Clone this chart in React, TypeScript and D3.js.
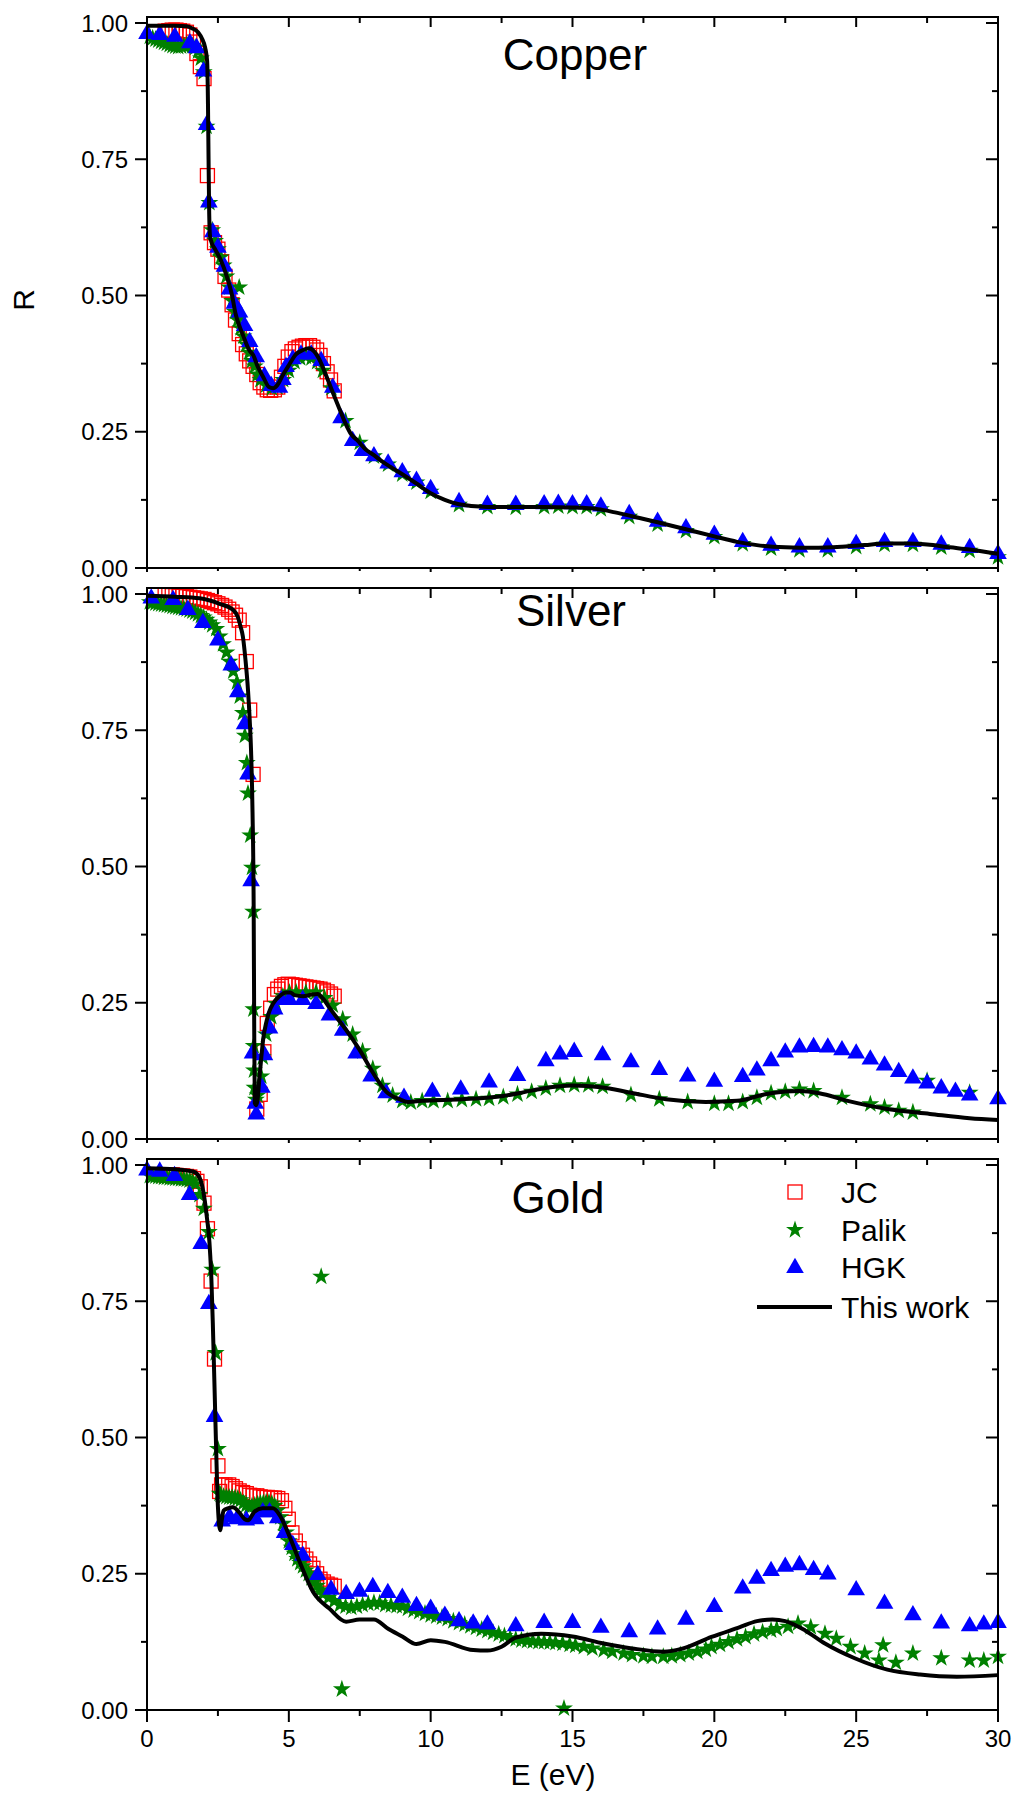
import React from 'react';
import * as d3 from 'd3';

type P = [number, number];

// ---------------- Copper ----------------
const cuThisWork: P[] = [
  [0, 0.995], [0.5, 0.995], [1.0, 0.995], [1.4, 0.994], [1.6, 0.99], [1.8, 0.983], [1.95, 0.97], [2.05, 0.955],
  [2.12, 0.93], [2.15, 0.85], [2.17, 0.75], [2.19, 0.66], [2.22, 0.61], [2.26, 0.6], [2.4, 0.585], [2.6, 0.565],
  [2.8, 0.537], [3.0, 0.5], [3.12, 0.467], [3.25, 0.445], [3.4, 0.425], [3.6, 0.4], [3.75, 0.39], [3.9, 0.37],
  [4.1, 0.35], [4.3, 0.332], [4.45, 0.33], [4.6, 0.336], [4.8, 0.355], [5.0, 0.372], [5.25, 0.392], [5.5, 0.4],
  [5.7, 0.403], [5.9, 0.397], [6.1, 0.38], [6.3, 0.355], [6.55, 0.322], [6.8, 0.29], [7.0, 0.265], [7.2, 0.245],
  [7.4, 0.235], [7.7, 0.218], [8.0, 0.207], [8.3, 0.195], [8.6, 0.185], [9.0, 0.172], [9.5, 0.155], [10.0, 0.137],
  [10.5, 0.125], [11.0, 0.117], [12.0, 0.112], [13.0, 0.112], [14.0, 0.112], [15.0, 0.111], [15.9, 0.108],
  [16.5, 0.102], [17.1, 0.095], [18.0, 0.084], [19.0, 0.071], [20.0, 0.058], [20.8, 0.048], [21.5, 0.042],
  [22.5, 0.038], [23.5, 0.037], [24.5, 0.039], [25.3, 0.042], [26.0, 0.045], [26.8, 0.045], [27.5, 0.043],
  [28.3, 0.038], [29.0, 0.034], [30.0, 0.026],
];
const cuJC: P[] = [
  [0.64, 0.985], [0.77, 0.986], [0.89, 0.987], [1.02, 0.987], [1.14, 0.986], [1.26, 0.985], [1.39, 0.983],
  [1.51, 0.978], [1.64, 0.965], [1.76, 0.944], [1.88, 0.92], [2.01, 0.898], [2.13, 0.72], [2.26, 0.615],
  [2.38, 0.597], [2.5, 0.585], [2.63, 0.562], [2.75, 0.535], [2.88, 0.51], [3.0, 0.483], [3.12, 0.455],
  [3.25, 0.43], [3.37, 0.41], [3.5, 0.393], [3.62, 0.38], [3.74, 0.37], [3.87, 0.355], [3.99, 0.34],
  [4.12, 0.332], [4.24, 0.327], [4.36, 0.326], [4.49, 0.327], [4.61, 0.332], [4.74, 0.35], [4.86, 0.37],
  [4.98, 0.387], [5.11, 0.397], [5.23, 0.402], [5.36, 0.405], [5.48, 0.407], [5.6, 0.408], [5.73, 0.408],
  [5.85, 0.405], [5.98, 0.4], [6.1, 0.39], [6.22, 0.375], [6.35, 0.36], [6.47, 0.345], [6.6, 0.325],
];
const cuPalik: P[] = [
  [0.1, 0.975], [0.2, 0.972], [0.3, 0.97], [0.4, 0.968], [0.5, 0.966], [0.6, 0.964], [0.7, 0.962], [0.8, 0.96],
  [0.9, 0.958], [1.0, 0.957], [1.1, 0.956], [1.2, 0.957], [1.3, 0.958], [1.4, 0.96], [1.5, 0.96], [1.6, 0.958],
  [1.7, 0.955], [1.8, 0.948], [1.9, 0.935], [2.0, 0.91], [2.1, 0.81], [2.2, 0.67], [2.3, 0.62], [2.4, 0.6],
  [2.5, 0.585], [2.6, 0.57], [2.7, 0.555], [2.8, 0.535], [2.9, 0.515], [3.0, 0.49], [3.1, 0.47], [3.25, 0.515],
  [3.2, 0.455], [3.3, 0.44], [3.4, 0.425], [3.5, 0.41], [3.6, 0.395], [3.7, 0.38], [3.8, 0.37], [3.9, 0.355],
  [4.0, 0.345], [4.2, 0.335], [4.4, 0.33], [4.6, 0.332], [4.8, 0.345], [5.0, 0.362], [5.2, 0.378], [5.4, 0.385],
  [5.6, 0.388], [5.8, 0.385], [6.0, 0.378], [6.2, 0.362], [6.5, 0.33], [7.0, 0.27], [7.5, 0.23], [8.0, 0.205],
  [8.5, 0.19], [9.0, 0.172], [9.5, 0.157], [10.0, 0.14], [11.0, 0.116], [12.0, 0.112], [13.0, 0.111],
  [14.0, 0.112], [14.5, 0.113], [15.0, 0.112], [15.5, 0.112], [16.0, 0.108], [17.0, 0.094], [18.0, 0.08],
  [19.0, 0.068], [20.0, 0.057], [21.0, 0.044], [22.0, 0.036], [23.0, 0.033], [24.0, 0.033], [25.0, 0.039],
  [26.0, 0.043], [27.0, 0.043], [28.0, 0.038], [29.0, 0.032], [30.0, 0.02],
];
const cuHGK: P[] = [
  [0, 0.98], [0.45, 0.978], [0.98, 0.975], [1.51, 0.963], [1.75, 0.954], [1.99, 0.911], [2.1, 0.813],
  [2.18, 0.671], [2.32, 0.616], [2.5, 0.588], [2.73, 0.553], [2.91, 0.511], [3.08, 0.485], [3.26, 0.469],
  [3.44, 0.444], [3.62, 0.415], [3.85, 0.387], [4.14, 0.352], [4.38, 0.334], [4.67, 0.331], [4.79, 0.345],
  [4.9, 0.369], [5.14, 0.383], [5.43, 0.392], [5.79, 0.392], [6.14, 0.38], [6.55, 0.331], [6.84, 0.275],
  [7.25, 0.233], [7.6, 0.215], [8.0, 0.205], [8.5, 0.192], [9.0, 0.176], [9.5, 0.16], [10.0, 0.145],
  [11.0, 0.121], [12.0, 0.116], [13.0, 0.116], [14.0, 0.117], [14.5, 0.118], [15.0, 0.117], [15.5, 0.117],
  [16.0, 0.113], [17.0, 0.099], [18.0, 0.085], [19.0, 0.073], [20.0, 0.061], [21.0, 0.048], [22.0, 0.041],
  [23.0, 0.038], [24.0, 0.038], [25.0, 0.044], [26.0, 0.048], [27.0, 0.048], [28.0, 0.043], [29.0, 0.037],
  [30.0, 0.026],
];

// ---------------- Silver ----------------
const agThisWork: P[] = [
  [0, 0.997], [1.0, 0.995], [1.85, 0.992], [2.56, 0.982], [3.03, 0.971], [3.2, 0.958], [3.3, 0.94],
  [3.38, 0.922], [3.47, 0.88], [3.56, 0.824], [3.62, 0.77], [3.67, 0.71], [3.72, 0.6], [3.76, 0.43],
  [3.78, 0.2], [3.8, 0.066], [3.85, 0.062], [3.9, 0.073], [3.96, 0.11], [4.03, 0.15], [4.1, 0.185],
  [4.2, 0.213], [4.32, 0.235], [4.44, 0.248], [4.67, 0.262], [4.9, 0.269], [5.05, 0.269], [5.2, 0.264],
  [5.5, 0.262], [5.8, 0.265], [6.02, 0.266], [6.2, 0.258], [6.43, 0.241], [6.7, 0.222], [7.02, 0.2],
  [7.49, 0.164], [7.96, 0.122], [8.43, 0.087], [8.9, 0.073], [9.2, 0.068], [9.7, 0.07], [11.1, 0.073],
  [12.56, 0.079], [13.3, 0.086], [14.0, 0.093], [15.0, 0.098], [16.0, 0.095], [17.06, 0.085], [18.3, 0.073],
  [19.7, 0.068], [20.8, 0.07], [21.8, 0.082], [22.5, 0.087], [23.0, 0.088], [23.7, 0.084], [24.7, 0.07],
  [26.1, 0.055], [27.6, 0.046], [29.0, 0.038], [30.0, 0.035],
];
const agJC: P[] = [
  [0.64, 0.998], [0.77, 0.998], [0.89, 0.997], [1.02, 0.997], [1.14, 0.996], [1.26, 0.996], [1.39, 0.995],
  [1.51, 0.994], [1.64, 0.993], [1.76, 0.992], [1.88, 0.991], [2.01, 0.99], [2.13, 0.988], [2.26, 0.986],
  [2.38, 0.984], [2.5, 0.982], [2.63, 0.979], [2.75, 0.976], [2.88, 0.972], [3.0, 0.967], [3.12, 0.961],
  [3.25, 0.952], [3.37, 0.929], [3.5, 0.876], [3.62, 0.787], [3.74, 0.669], [3.87, 0.055], [3.99, 0.082],
  [4.12, 0.16], [4.24, 0.212], [4.36, 0.24], [4.49, 0.265], [4.61, 0.275], [4.74, 0.28], [4.86, 0.283],
  [4.98, 0.284], [5.11, 0.283], [5.23, 0.282], [5.36, 0.281], [5.48, 0.28], [5.6, 0.279], [5.73, 0.278],
  [5.85, 0.277], [5.98, 0.276], [6.1, 0.275], [6.22, 0.273], [6.35, 0.27], [6.47, 0.266], [6.6, 0.262],
];
const agPalik: P[] = [
  [0.1, 0.985], [0.2, 0.984], [0.3, 0.983], [0.4, 0.982], [0.5, 0.981], [0.6, 0.98], [0.7, 0.979], [0.8, 0.978],
  [0.9, 0.977], [1.0, 0.976], [1.1, 0.975], [1.2, 0.974], [1.3, 0.973], [1.4, 0.972], [1.5, 0.97], [1.6, 0.968],
  [1.7, 0.966], [1.8, 0.963], [1.9, 0.96], [2.0, 0.957], [2.1, 0.953], [2.2, 0.948], [2.3, 0.943], [2.44, 0.936],
  [2.56, 0.922], [2.68, 0.908], [2.8, 0.893], [2.91, 0.876], [3.04, 0.858], [3.17, 0.838], [3.27, 0.812],
  [3.38, 0.782], [3.45, 0.74], [3.52, 0.69], [3.56, 0.634], [3.64, 0.557], [3.7, 0.498], [3.74, 0.417],
  [3.75, 0.238], [3.76, 0.171], [3.77, 0.126], [3.79, 0.094], [3.84, 0.072], [3.9, 0.08], [4.03, 0.115],
  [4.08, 0.15], [4.2, 0.192], [4.38, 0.224], [4.55, 0.248], [4.79, 0.262], [5.02, 0.269], [5.26, 0.269],
  [5.6, 0.269], [5.96, 0.269], [6.26, 0.259], [6.55, 0.245], [6.9, 0.22], [7.25, 0.192], [7.6, 0.161],
  [7.96, 0.129], [8.3, 0.098], [8.66, 0.08], [9.0, 0.07], [9.3, 0.067], [9.7, 0.07], [10.1, 0.07],
  [10.6, 0.07], [11.1, 0.072], [11.6, 0.073], [12.06, 0.074], [12.56, 0.077], [13.06, 0.082], [13.56, 0.087],
  [14.06, 0.093], [14.56, 0.098], [15.06, 0.099], [15.56, 0.099], [16.06, 0.096], [17.06, 0.081],
  [18.06, 0.073], [19.06, 0.068], [20.0, 0.065], [20.5, 0.065], [21.0, 0.068], [21.5, 0.076], [22.0, 0.084],
  [22.5, 0.087], [23.0, 0.091], [23.5, 0.088], [24.5, 0.076], [25.5, 0.064], [26.0, 0.058], [26.5, 0.052],
  [27.0, 0.049], [27.5, 0.107], [29.0, 0.085],
];
const agHGK: P[] = [
  [0.15, 0.992], [0.92, 0.989], [1.44, 0.971], [1.97, 0.947], [2.5, 0.915], [2.97, 0.869], [3.2, 0.82],
  [3.44, 0.761], [3.56, 0.669], [3.67, 0.473], [3.72, 0.157], [3.82, 0.065], [3.85, 0.045], [4.05, 0.094],
  [4.14, 0.154], [4.32, 0.203], [4.5, 0.238], [4.73, 0.255], [5.02, 0.255], [5.49, 0.255], [5.96, 0.248],
  [6.43, 0.227], [6.9, 0.199], [7.37, 0.157], [7.9, 0.115], [8.43, 0.084], [9.06, 0.076], [10.06, 0.087],
  [11.06, 0.091], [12.06, 0.104], [13.06, 0.116], [14.06, 0.143], [14.56, 0.155], [15.06, 0.16], [16.06, 0.154],
  [17.06, 0.141], [18.06, 0.127], [19.06, 0.115], [20.0, 0.105], [21.0, 0.114], [21.5, 0.126], [22.0, 0.143],
  [22.5, 0.159], [23.0, 0.168], [23.5, 0.169], [24.0, 0.168], [24.5, 0.163], [25.0, 0.157], [25.5, 0.146],
  [26.0, 0.135], [26.5, 0.123], [27.0, 0.111], [27.5, 0.102], [28.0, 0.093], [28.5, 0.087], [29.0, 0.08],
  [30.0, 0.073],
];

// ---------------- Gold ----------------
const auThisWork: P[] = [
  [0, 0.994], [1.0, 0.992], [1.62, 0.988], [1.85, 0.977], [2.03, 0.937], [2.12, 0.9], [2.2, 0.859],
  [2.27, 0.79], [2.32, 0.71], [2.42, 0.514], [2.5, 0.373], [2.58, 0.33], [2.64, 0.35], [2.7, 0.366],
  [2.85, 0.37], [3.03, 0.372], [3.26, 0.362], [3.45, 0.35], [3.56, 0.348], [3.79, 0.364], [4.08, 0.37],
  [4.44, 0.37], [4.67, 0.358], [5.02, 0.319], [5.38, 0.272], [5.85, 0.217], [6.43, 0.186], [7.02, 0.162],
  [7.49, 0.166], [8.0, 0.166], [8.5, 0.149], [9.0, 0.135], [9.5, 0.121], [10.0, 0.128], [10.5, 0.125],
  [11.5, 0.11], [12.0, 0.109], [12.5, 0.116], [13.0, 0.133], [13.9, 0.14], [15.0, 0.135], [16.1, 0.122],
  [17.1, 0.113], [18.2, 0.107], [18.9, 0.113], [19.9, 0.134], [20.9, 0.152], [21.5, 0.163], [22.05, 0.166],
  [22.5, 0.163], [23.2, 0.146], [23.9, 0.122], [24.95, 0.095], [26.1, 0.074], [27.25, 0.065], [28.55, 0.061],
  [30.0, 0.064],
];
const auJC: P[] = [
  [0.64, 0.982], [0.77, 0.982], [0.89, 0.982], [1.02, 0.981], [1.14, 0.98], [1.26, 0.98], [1.39, 0.979],
  [1.51, 0.978], [1.64, 0.975], [1.76, 0.97], [1.88, 0.96], [2.01, 0.93], [2.13, 0.883], [2.26, 0.787],
  [2.38, 0.644], [2.5, 0.448], [2.56, 0.401], [2.63, 0.413], [2.75, 0.413], [2.88, 0.413], [3.0, 0.41],
  [3.12, 0.406], [3.25, 0.402], [3.37, 0.399], [3.5, 0.397], [3.62, 0.394], [3.74, 0.393], [3.87, 0.393],
  [3.99, 0.391], [4.12, 0.39], [4.24, 0.39], [4.36, 0.389], [4.49, 0.389], [4.61, 0.388], [4.74, 0.384],
  [4.86, 0.37], [4.98, 0.35], [5.11, 0.325], [5.23, 0.31], [5.36, 0.296], [5.48, 0.284], [5.6, 0.277],
  [5.73, 0.268], [5.85, 0.26], [5.98, 0.25], [6.1, 0.24], [6.22, 0.235], [6.35, 0.231], [6.47, 0.229],
  [6.6, 0.227],
];
const auPalik: P[] = [
  [0.1, 0.98], [0.2, 0.979], [0.3, 0.979], [0.4, 0.978], [0.5, 0.978], [0.6, 0.977], [0.7, 0.977], [0.8, 0.976],
  [0.9, 0.976], [1.0, 0.975], [1.1, 0.975], [1.2, 0.974], [1.3, 0.974], [1.4, 0.973], [1.5, 0.972], [1.6, 0.97],
  [1.7, 0.965], [1.85, 0.945], [2.0, 0.92], [2.18, 0.877], [2.3, 0.808], [2.42, 0.655], [2.5, 0.479],
  [2.56, 0.397], [2.6, 0.395], [2.7, 0.392], [2.8, 0.391], [2.9, 0.39], [3.0, 0.39], [3.1, 0.389], [3.2, 0.388],
  [3.3, 0.385], [3.4, 0.38], [3.5, 0.376], [3.6, 0.373], [3.7, 0.374], [3.8, 0.376], [3.9, 0.378], [4.0, 0.379],
  [4.1, 0.38], [4.2, 0.381], [4.3, 0.381], [4.4, 0.379], [4.5, 0.375], [4.6, 0.366], [4.7, 0.354], [4.8, 0.342],
  [4.9, 0.326], [5.0, 0.31], [5.1, 0.298], [5.2, 0.287], [5.3, 0.277], [5.4, 0.27], [5.5, 0.264], [5.6, 0.256],
  [5.7, 0.25], [5.8, 0.242], [5.9, 0.235], [6.0, 0.228], [6.1, 0.22], [6.2, 0.213], [6.4, 0.206], [6.6, 0.2],
  [6.8, 0.193], [7.0, 0.19], [7.2, 0.188], [7.4, 0.19], [7.6, 0.193], [7.8, 0.195], [8.0, 0.197], [8.2, 0.196],
  [8.4, 0.193], [8.6, 0.192], [8.8, 0.191], [9.0, 0.19], [9.2, 0.186], [9.4, 0.183], [9.6, 0.18], [9.8, 0.177],
  [10.0, 0.174], [10.2, 0.172], [10.4, 0.17], [10.6, 0.167], [10.8, 0.163], [11.0, 0.16], [11.2, 0.157],
  [11.4, 0.154], [11.6, 0.151], [11.8, 0.148], [12.0, 0.145], [12.2, 0.142], [12.4, 0.139], [12.6, 0.136],
  [12.8, 0.132], [13.0, 0.13], [13.2, 0.128], [13.4, 0.127], [13.6, 0.126], [13.8, 0.125], [14.0, 0.125],
  [14.2, 0.124], [14.4, 0.123], [14.65, 0.122], [14.9, 0.12], [15.1, 0.118], [15.4, 0.116], [15.7, 0.113],
  [16.1, 0.11], [16.4, 0.107], [16.8, 0.104], [17.1, 0.101], [17.5, 0.099], [17.8, 0.098], [18.2, 0.098],
  [18.5, 0.099], [18.8, 0.101], [19.1, 0.104], [19.4, 0.107], [19.7, 0.111], [19.9, 0.116], [20.2, 0.12],
  [20.5, 0.125], [20.8, 0.13], [21.1, 0.134], [21.4, 0.139], [21.7, 0.143], [22.0, 0.146], [22.2, 0.149],
  [22.6, 0.153], [22.95, 0.159], [23.4, 0.152], [23.9, 0.14], [24.3, 0.131], [24.8, 0.116], [25.3, 0.104],
  [25.8, 0.091], [25.95, 0.119], [26.4, 0.087], [27.0, 0.104], [28.0, 0.095], [29.0, 0.091], [29.5, 0.091],
  [30.0, 0.098], [6.14, 0.795], [6.87, 0.038], [14.7, 0.003],
];
const auHGK: P[] = [
  [0, 0.99], [0.45, 0.988], [0.97, 0.98], [1.5, 0.945], [1.91, 0.855], [2.18, 0.745], [2.38, 0.538],
  [2.65, 0.346], [2.91, 0.354], [3.17, 0.35], [3.5, 0.348], [3.83, 0.35], [4.08, 0.363], [4.32, 0.363],
  [4.61, 0.352], [4.85, 0.325], [5.14, 0.303], [5.49, 0.283], [6.02, 0.248], [6.49, 0.221], [7.02, 0.213],
  [7.49, 0.217], [7.96, 0.226], [8.49, 0.215], [9.0, 0.206], [9.5, 0.191], [10.0, 0.186], [10.5, 0.173],
  [11.0, 0.163], [11.5, 0.159], [12.0, 0.157], [13.0, 0.154], [14.0, 0.16], [15.0, 0.16], [16.0, 0.151],
  [17.0, 0.143], [18.0, 0.148], [19.0, 0.166], [20.0, 0.189], [21.0, 0.223], [21.5, 0.241], [22.0, 0.255],
  [22.5, 0.263], [23.0, 0.266], [23.5, 0.257], [24.0, 0.249], [25.0, 0.22], [26.0, 0.195], [27.0, 0.174],
  [28.0, 0.159], [29.0, 0.154], [29.5, 0.157], [30.0, 0.16],
];

const xMajorTicks = [0, 5, 10, 15, 20, 25, 30];
const xMinorTicks = [2.5, 7.5, 12.5, 17.5, 22.5, 27.5];
const yMajorTicks = [0, 0.25, 0.5, 0.75, 1.0];
const yMinorTicks = [0.125, 0.375, 0.625, 0.875];
const legendLabels = ['JC', 'Palik', 'HGK', 'This work'];

const panels = [
  { title: 'Copper', titleX: 575, titleY: 70, jc: cuJC, palik: cuPalik, hgk: cuHGK, line: cuThisWork },
  { title: 'Silver', titleX: 571, titleY: 626, jc: agJC, palik: agPalik, hgk: agHGK, line: agThisWork },
  { title: 'Gold', titleX: 558, titleY: 1213, jc: auJC, palik: auPalik, hgk: auHGK, line: auThisWork },
];

const W = 1017;
const H = 1800;
const LEFT = 147;
const RIGHT = 998;
const TOPS = [17, 588, 1159];
const PH = 551;
const FONT = 'Arial, "Liberation Sans", Helvetica, sans-serif';
const RED = '#ff0000';
const GREEN = '#008000';
const BLUE = '#0000ff';

const starPath = d3.symbol().type(d3.symbolStar).size(100)()!;
const triPath = d3.symbol().type(d3.symbolTriangle).size(135)()!;
const SQ = 14;

export default function App() {
  const x = d3.scaleLinear().domain([0, 30]).range([LEFT, RIGHT]);
  return (
    <svg width={W} height={H} style={{ position: 'absolute', left: 0, top: 0, background: '#fff' }}
      fontFamily={FONT}>
      <rect x={0} y={0} width={W} height={H} fill="#fff" />
      {panels.map((p, pi) => {
        const top = TOPS[pi];
        const bottom = top + PH;
        const y = d3.scaleLinear().domain([0, 1.011]).range([bottom, top]);
        const line = d3.line<P>().x(d => x(d[0])).y(d => y(d[1])).curve(d3.curveMonotoneX);
        const isLast = pi === panels.length - 1;
        return (
          <g key={p.title}>
            <g>
              {p.jc.map((d, i) => (
                <rect key={'jc' + i} x={x(d[0]) - SQ / 2} y={y(d[1]) - SQ / 2} width={SQ} height={SQ}
                  fill="none" stroke={RED} strokeWidth={1.3} />
              ))}
            </g>
            <g>
              {p.palik.map((d, i) => (
                <path key={'pa' + i} d={starPath} transform={`translate(${x(d[0])},${y(d[1])})`} fill={GREEN} />
              ))}
            </g>
            <g>
              {p.hgk.map((d, i) => (
                <path key={'hg' + i} d={triPath} transform={`translate(${x(d[0])},${y(d[1])})`} fill={BLUE} />
              ))}
            </g>
            <path d={line(p.line) || ''} fill="none" stroke="#000" strokeWidth={4} strokeLinejoin="round" />

            <rect x={LEFT} y={top} width={RIGHT - LEFT} height={PH} fill="none" stroke="#000" strokeWidth={2} />

            {xMajorTicks.map(t => (
              <g key={'xM' + t}>
                <line x1={x(t)} x2={x(t)} y1={bottom} y2={bottom + (isLast ? 12 : 4)} stroke="#000" strokeWidth={2} />
                <line x1={x(t)} x2={x(t)} y1={top} y2={top + 10} stroke="#000" strokeWidth={2} />
              </g>
            ))}
            {xMinorTicks.map(t => (
              <g key={'xm' + t}>
                <line x1={x(t)} x2={x(t)} y1={bottom} y2={bottom + (isLast ? 6 : 3)} stroke="#000" strokeWidth={2} />
                <line x1={x(t)} x2={x(t)} y1={top} y2={top + 6} stroke="#000" strokeWidth={2} />
              </g>
            ))}
            {yMajorTicks.map(t => (
              <g key={'yM' + t}>
                <line x1={LEFT - 12} x2={LEFT} y1={y(t)} y2={y(t)} stroke="#000" strokeWidth={2} />
                <line x1={RIGHT - 12} x2={RIGHT} y1={y(t)} y2={y(t)} stroke="#000" strokeWidth={2} />
                <text x={LEFT - 19} y={y(t)} dy="0.36em" textAnchor="end" fontSize={24} fill="#000">
                  {t.toFixed(2)}
                </text>
              </g>
            ))}
            {yMinorTicks.map(t => (
              <g key={'ym' + t}>
                <line x1={LEFT - 6} x2={LEFT} y1={y(t)} y2={y(t)} stroke="#000" strokeWidth={2} />
                <line x1={RIGHT - 6} x2={RIGHT} y1={y(t)} y2={y(t)} stroke="#000" strokeWidth={2} />
              </g>
            ))}
            {isLast && xMajorTicks.map(t => (
              <text key={'xl' + t} x={x(t)} y={bottom + 37} textAnchor="middle" fontSize={24} fill="#000">{t}</text>
            ))}

            <text x={p.titleX} y={p.titleY} textAnchor="middle" fontSize={44} fill="#000">{p.title}</text>

            {isLast && (
              <g>
                <rect x={795 - SQ / 2} y={1192 - SQ / 2} width={SQ} height={SQ} fill="none" stroke={RED} strokeWidth={1.3} />
                <path d={starPath} transform="translate(795,1230)" fill={GREEN} />
                <path d={triPath} transform="translate(795,1268)" fill={BLUE} />
                <line x1={757} x2={832} y1={1307} y2={1307} stroke="#000" strokeWidth={4} />
                {legendLabels.map((l, i) => (
                  <text key={l} x={841} y={[1192, 1230, 1267, 1307][i]} dy="0.35em" fontSize={30} fill="#000">{l}</text>
                ))}
              </g>
            )}
          </g>
        );
      })}
      <text x={553} y={1785} textAnchor="middle" fontSize={30} fill="#000">E (eV)</text>
      <text transform="translate(34,300) rotate(-90)" textAnchor="middle" fontSize={30} fill="#000">R</text>
    </svg>
  );
}
